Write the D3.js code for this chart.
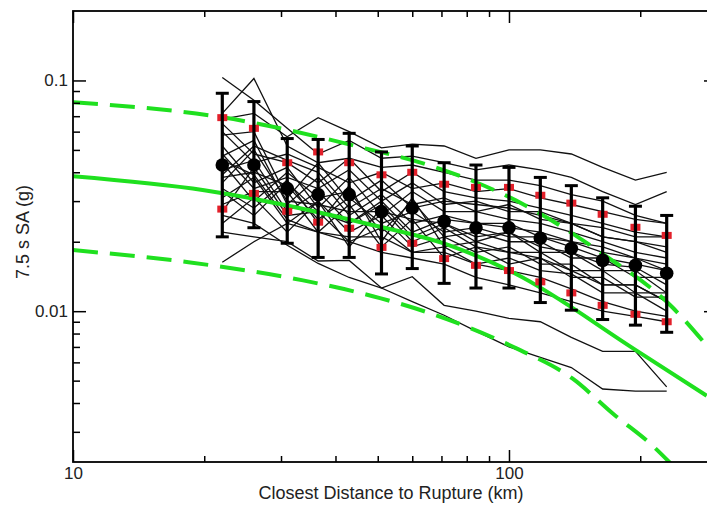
<!DOCTYPE html>
<html>
<head>
<meta charset="utf-8">
<script src="https://cdn.jsdelivr.net/npm/d3@7"></script>
<style>
  body { margin: 0; background: #fff; }
  svg { display: block; font-family: "Liberation Sans", Arial, sans-serif; }
</style>
</head>
<body>
<div id="chart"></div>
<script>
// distance bins (km)
const distances = [22, 26, 31, 36.5, 43, 51, 60, 71, 84, 100, 118, 139, 164, 195, 230];

// mean of the simulations and its spread (g)
const meanSA    = [0.043, 0.043, 0.034, 0.032, 0.032, 0.027, 0.028, 0.0245, 0.023, 0.023, 0.0207, 0.0187, 0.0166, 0.0158, 0.0146];
const barTop    = [0.088, 0.081, 0.056, 0.0555, 0.059, 0.049, 0.052, 0.044, 0.043, 0.042, 0.038, 0.035, 0.031, 0.0285, 0.026];
const barBottom = [0.021, 0.023, 0.0197, 0.0171, 0.0171, 0.0145, 0.0153, 0.0132, 0.0126, 0.0126, 0.0109, 0.0101, 0.0092, 0.0087, 0.0081];
const plusSigma  = [0.069, 0.062, 0.044, 0.049, 0.044, 0.039, 0.040, 0.0355, 0.0344, 0.0344, 0.0318, 0.0294, 0.0263, 0.0231, 0.0213];
const minusSigma = [0.0277, 0.0324, 0.0271, 0.0243, 0.0229, 0.0189, 0.0197, 0.0169, 0.0158, 0.0150, 0.0134, 0.0120, 0.0106, 0.0097, 0.0090];

// individual simulations, one value per distance bin
const sims = [
  [0.068, 0.072, 0.057, 0.069, 0.060, 0.051, 0.053, 0.052, 0.046, 0.050, 0.050, 0.048, 0.042, 0.037, 0.040],
  [0.103, 0.082, 0.062, 0.048, 0.055, 0.046, 0.047, 0.044, 0.041, 0.043, 0.041, 0.038, 0.033, 0.029, 0.033],
  [0.072, 0.102, 0.052, 0.044, 0.046, 0.042, 0.043, 0.040, 0.037, 0.037, 0.035, 0.032, 0.030, 0.026, 0.024],
  [0.065, 0.048, 0.044, 0.036, 0.046, 0.033, 0.040, 0.033, 0.031, 0.030, 0.028, 0.026, 0.024, 0.022, 0.021],
  [0.058, 0.060, 0.031, 0.044, 0.030, 0.037, 0.028, 0.030, 0.029, 0.028, 0.026, 0.024, 0.021, 0.020, 0.018],
  [0.052, 0.036, 0.042, 0.028, 0.038, 0.026, 0.033, 0.027, 0.027, 0.025, 0.024, 0.022, 0.020, 0.018, 0.017],
  [0.047, 0.055, 0.029, 0.038, 0.026, 0.032, 0.024, 0.026, 0.024, 0.024, 0.021, 0.020, 0.018, 0.017, 0.015],
  [0.044, 0.030, 0.040, 0.031, 0.033, 0.022, 0.030, 0.021, 0.022, 0.020, 0.020, 0.017, 0.017, 0.014, 0.014],
  [0.041, 0.045, 0.027, 0.033, 0.024, 0.029, 0.021, 0.024, 0.020, 0.022, 0.018, 0.018, 0.015, 0.015, 0.012],
  [0.038, 0.040, 0.035, 0.025, 0.031, 0.024, 0.027, 0.022, 0.023, 0.021, 0.021, 0.019, 0.017, 0.016, 0.015],
  [0.036, 0.050, 0.030, 0.029, 0.027, 0.027, 0.025, 0.024, 0.021, 0.022, 0.019, 0.018, 0.016, 0.0155, 0.013],
  [0.034, 0.028, 0.037, 0.024, 0.035, 0.020, 0.031, 0.019, 0.020, 0.018, 0.018, 0.015, 0.015, 0.012, 0.012],
  [0.031, 0.038, 0.024, 0.030, 0.022, 0.026, 0.019, 0.021, 0.018, 0.019, 0.016, 0.016, 0.013, 0.013, 0.011],
  [0.029, 0.033, 0.033, 0.022, 0.029, 0.019, 0.025, 0.017, 0.019, 0.016, 0.017, 0.014, 0.014, 0.0115, 0.0115],
  [0.027, 0.042, 0.026, 0.027, 0.020, 0.023, 0.018, 0.019, 0.016, 0.017, 0.015, 0.0145, 0.012, 0.012, 0.010],
  [0.048, 0.034, 0.038, 0.034, 0.041, 0.030, 0.036, 0.029, 0.030, 0.027, 0.027, 0.024, 0.023, 0.021, 0.021],
  [0.039, 0.052, 0.045, 0.040, 0.028, 0.034, 0.029, 0.031, 0.027, 0.029, 0.025, 0.024, 0.021, 0.020, 0.019],
  [0.033, 0.026, 0.036, 0.027, 0.024, 0.030, 0.022, 0.025, 0.024, 0.023, 0.022, 0.020, 0.019, 0.017, 0.016],
  [0.045, 0.039, 0.025, 0.022, 0.021, 0.021, 0.018, 0.018, 0.016, 0.015, 0.014, 0.0125, 0.011, 0.010, 0.0095],
  [0.060, 0.044, 0.048, 0.042, 0.036, 0.040, 0.034, 0.036, 0.033, 0.034, 0.031, 0.029, 0.027, 0.025, 0.024],
  [0.024, 0.031, 0.022, 0.030, 0.019, 0.028, 0.020, 0.023, 0.019, 0.018, 0.017, 0.015, 0.013, 0.013, 0.011],
  [0.0163, 0.020, 0.024, 0.022, 0.020, 0.018, 0.017, 0.016, 0.014, 0.013, 0.012, 0.011, 0.010, 0.0095, 0.009],
  [0.026, 0.024, 0.0193, 0.0161, 0.0140, 0.0126, 0.0141, 0.0106, 0.0100, 0.0093, 0.0090, 0.0077, 0.0067, 0.0067, 0.0047],
  [0.022, 0.021, 0.020, 0.0165, 0.0166, 0.0126, 0.0110, 0.0096, 0.0082, 0.0070, 0.0063, 0.0057, 0.0046, 0.0045, 0.0045]
];

// ground motion model: median and +/- one sigma
const medianDist = [10, 20, 47, 73, 103, 195, 284];
const medianSA   = [0.0384, 0.0334, 0.0240, 0.0193, 0.0146, 0.0068, 0.0043];
const upperDist  = [10, 22, 46.8, 65.9, 108.8, 162, 237, 284];
const upperSA    = [0.0804, 0.0692, 0.0508, 0.0428, 0.0288, 0.0180, 0.0104, 0.0071];
const lowerDist  = [10, 18.4, 33.7, 50.6, 65.9, 104, 140, 173, 214, 240];
const lowerSA    = [0.0184, 0.0163, 0.0136, 0.0114, 0.0098, 0.0069, 0.0051, 0.0036, 0.0026, 0.0021];

// axis ticks
const xMajor = [10, 100];
const xMinor = [20, 30, 40, 50, 60, 70, 80, 90, 200];
const yMajor = [0.01, 0.1];
const yMinor = [0.003, 0.004, 0.005, 0.006, 0.007, 0.008, 0.009,
                0.02, 0.03, 0.04, 0.05, 0.06, 0.07, 0.08, 0.09];

const margin = { top: 11, left: 73 },
      width = 644,
      height = 451;

const svg = d3.select("#chart").append("svg")
              .attr("width", 707)
              .attr("height", 505);

const g = svg.append("g")
             .attr("transform", `translate(${margin.left},${margin.top})`);

const x = d3.scaleLog().domain([10, 300]).range([0, width]),
      y = d3.scaleLog().domain([0.00222, 0.2]).range([height, 0]);

svg.append("defs").append("clipPath").attr("id", "plot")
   .append("rect").attr("width", width).attr("height", height);

const plot = g.append("g").attr("clip-path", "url(#plot)");

const line = d3.line().x(d => x(d[0])).y(d => y(d[1]));
const smooth = d3.line().x(d => x(d[0])).y(d => y(d[1])).curve(d3.curveMonotoneX);

// simulations
plot.selectAll(".sim").data(sims).enter().append("path")
    .attr("class", "sim")
    .attr("d", s => line(s.map((v, i) => [distances[i], v])))
    .style("fill", "none")
    .style("stroke", "#111")
    .style("stroke-width", 1.3);

// model curves
const green = "#1fe01f";
plot.append("path")
    .attr("d", smooth(medianDist.map((d, i) => [d, medianSA[i]])))
    .style("fill", "none").style("stroke", green).style("stroke-width", 4);
[[upperDist, upperSA], [lowerDist, lowerSA]].forEach(([ds, vs]) => {
    plot.append("path")
        .attr("d", smooth(ds.map((d, i) => [d, vs[i]])))
        .style("fill", "none").style("stroke", green).style("stroke-width", 4)
        .style("stroke-dasharray", "25,12");
});

// +/- sigma markers
const red = "#e3202a";
distances.forEach((d, i) => {
    [plusSigma[i], minusSigma[i]].forEach(v => {
        plot.append("rect")
            .attr("x", x(d) - 5).attr("y", y(v) - 3.5)
            .attr("width", 10).attr("height", 7)
            .style("fill", red);
    });
});

// error bars
const bars = plot.selectAll(".bar").data(distances).enter().append("g").attr("class", "bar");
bars.append("line")
    .attr("x1", d => x(d)).attr("x2", d => x(d))
    .attr("y1", (d, i) => y(barTop[i])).attr("y2", (d, i) => y(barBottom[i]))
    .style("stroke", "#000").style("stroke-width", 3.2);
[barTop, barBottom].forEach(arr => {
    bars.append("line")
        .attr("x1", d => x(d) - 6.5).attr("x2", d => x(d) + 6.5)
        .attr("y1", (d, i) => y(arr[i])).attr("y2", (d, i) => y(arr[i]))
        .style("stroke", "#000").style("stroke-width", 3);
});
bars.append("circle")
    .attr("cx", d => x(d)).attr("cy", (d, i) => y(meanSA[i]))
    .attr("r", 6.8)
    .style("fill", "#000");

// axes with inward ticks
function axis(gen, transform, values, size, labels) {
    const a = g.append("g").attr("transform", transform)
               .call(gen.tickValues(values).tickSize(-size).tickSizeOuter(0).tickPadding(5)
                        .tickFormat(labels ? (d => d) : ""));
    a.select(".domain").remove();
    a.selectAll("line").style("stroke", "#000").style("stroke-width", 1.5);
    a.selectAll("text").style("font-size", "17px").style("fill", "#222")
     .style("font-family", "'Liberation Sans', Arial, sans-serif");
}
axis(d3.axisBottom(x), `translate(0,${height})`, xMajor, 12, true);
axis(d3.axisBottom(x), `translate(0,${height})`, xMinor, 6, false);
axis(d3.axisTop(x), "translate(0,0)", xMajor, 12, false);
axis(d3.axisTop(x), "translate(0,0)", xMinor, 6, false);
axis(d3.axisLeft(y), "translate(0,0)", yMajor, 13, true);
axis(d3.axisLeft(y), "translate(0,0)", yMinor, 7, false);
axis(d3.axisRight(y), `translate(${width},0)`, yMajor, 13, false);
axis(d3.axisRight(y), `translate(${width},0)`, yMinor, 7, false);

g.append("rect")
 .attr("width", width).attr("height", height)
 .style("fill", "none").style("stroke", "#000").style("stroke-width", 1.8);

// titles
svg.append("text")
   .attr("x", 391).attr("y", 493)
   .attr("text-anchor", "middle").attr("dominant-baseline", "central")
   .style("font-size", "18px").style("fill", "#222")
   .text("Closest Distance to Rupture (km)");

svg.append("text")
   .attr("transform", "translate(23,232) rotate(-90)")
   .attr("text-anchor", "middle").attr("dominant-baseline", "central")
   .style("font-size", "18px").style("fill", "#222")
   .text("7.5 s SA (g)");
</script>
</body>
</html>
